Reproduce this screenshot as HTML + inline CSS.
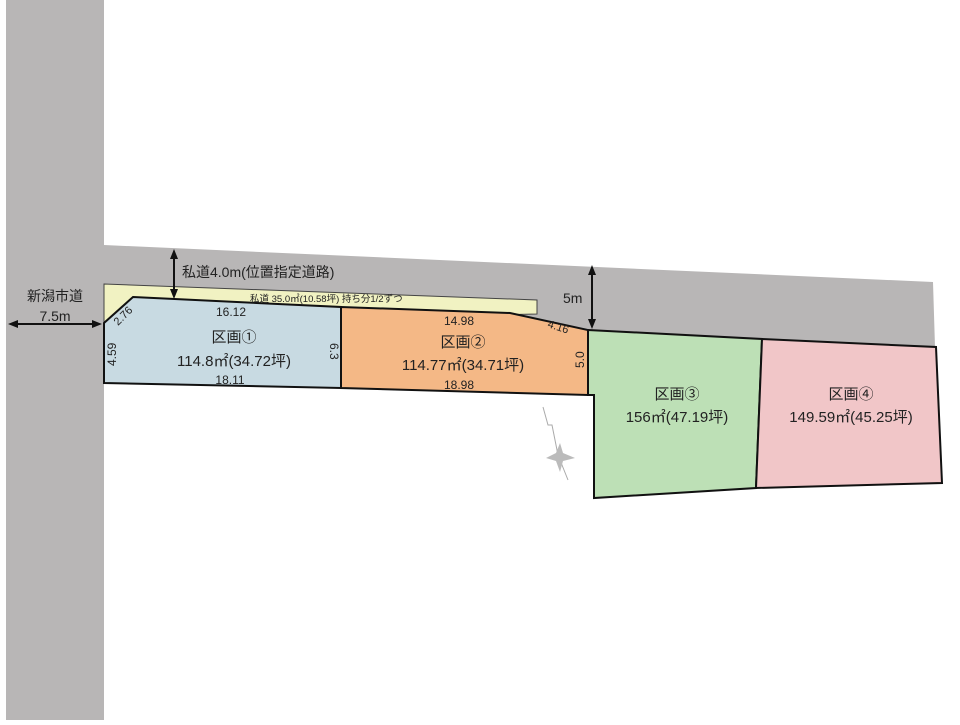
<!DOCTYPE html>
<html><head><meta charset="utf-8"><style>
body{margin:0;background:#fff;}
svg text{font-family:"Liberation Sans","Noto Sans CJK JP",sans-serif;fill:#222;}
</style></head><body>
<svg width="960" height="720" viewBox="0 0 960 720" xmlns="http://www.w3.org/2000/svg">
<rect x="6" y="0" width="98" height="720" fill="#b8b6b6"/>
<polygon points="104,245 933,282 935,347 588,330 104,325" fill="#b8b6b6"/>
<polygon points="104,284 537,300 537,314 104,323" fill="#f1f2c2" stroke="#444" stroke-width="1"/>
<polygon points="133,297 341,307 341,388 104,383 104,323" fill="#c8dae2" stroke="#111" stroke-width="2"/>
<polygon points="341,307 510,313 588,330 588,395 341,388" fill="#f4b886" stroke="#111" stroke-width="2"/>
<polygon points="588,330 762,339 756,488 594,498 594,395 588,395" fill="#bde0b6" stroke="#111" stroke-width="2"/>
<polygon points="762,339 936,347 942,483 756,488" fill="#f1c6c8" stroke="#111" stroke-width="2"/>
<!-- arrows -->
<g stroke="#111" stroke-width="2" fill="#111">
<line x1="14" y1="324" x2="96" y2="324"/>
<polygon points="8,324 18,320 18,328" stroke="none"/>
<polygon points="102,324 92,320 92,328" stroke="none"/>
<line x1="174" y1="256" x2="174" y2="292"/>
<polygon points="174,249 170,259 178,259" stroke="none"/>
<polygon points="174,299 170,289 178,289" stroke="none"/>
<line x1="592" y1="272" x2="592" y2="322"/>
<polygon points="592,265 588,275 596,275" stroke="none"/>
<polygon points="592,329 588,319 596,319" stroke="none"/>
</g>
<!-- compass -->
<g stroke="#aaa" stroke-width="1" fill="none">
<polyline points="543,407 548,425 552,425 556,445 558,455 568,480"/>
</g>
<polygon points="560,443 563,453 575,458 563,461 560,472 556,461 546,458 556,453" fill="#bbb"/>
<text x="55" y="301" font-size="14" text-anchor="middle">新潟市道</text>
<text x="55" y="321" font-size="14" text-anchor="middle">7.5m</text>
<text x="182" y="277" font-size="14">私道4.0m(位置指定道路)</text>
<text x="250" y="302" font-size="9.5">私道 35.0㎡(10.58坪) 持ち分1/2ずつ</text>
<text x="563" y="303" font-size="14">5m</text>
<text x="231" y="316" font-size="12" text-anchor="middle">16.12</text>
<text x="234" y="342" font-size="15" text-anchor="middle">区画①</text>
<text x="234" y="366" font-size="15" text-anchor="middle">114.8㎡(34.72坪)</text>
<text x="230" y="384" font-size="12" text-anchor="middle">18.11</text>
<text x="0" y="0" font-size="11" transform="translate(118,326) rotate(-45)">2.76</text>
<text x="0" y="0" font-size="12" transform="translate(116,366) rotate(-90)">4.59</text>
<text x="0" y="0" font-size="12" transform="translate(330,343) rotate(90)">6.3</text>
<text x="459" y="325" font-size="12" text-anchor="middle">14.98</text>
<text x="463" y="347" font-size="15" text-anchor="middle">区画②</text>
<text x="463" y="370" font-size="15" text-anchor="middle">114.77㎡(34.71坪)</text>
<text x="459" y="389" font-size="12" text-anchor="middle">18.98</text>
<text x="0" y="0" font-size="11" transform="translate(547,327) rotate(18)">4.16</text>
<text x="0" y="0" font-size="12" transform="translate(584,368) rotate(-90)">5.0</text>
<text x="677" y="399" font-size="15" text-anchor="middle">区画③</text>
<text x="677" y="422" font-size="15" text-anchor="middle">156㎡(47.19坪)</text>
<text x="851" y="399" font-size="15" text-anchor="middle">区画④</text>
<text x="851" y="422" font-size="15" text-anchor="middle">149.59㎡(45.25坪)</text>
</svg>
</body></html>
